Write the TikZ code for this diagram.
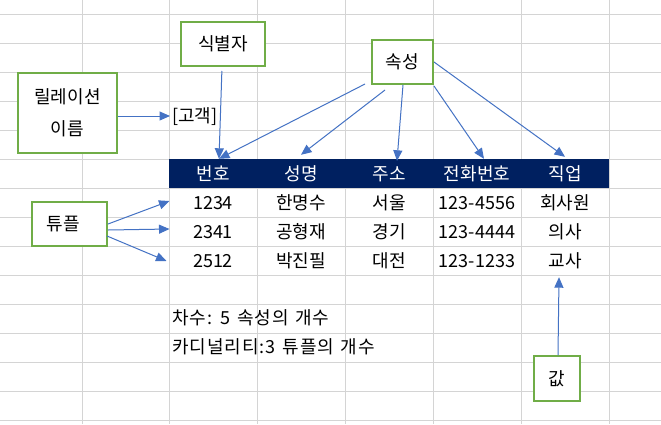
\documentclass[tikz,border=0pt]{standalone}
\usepackage{fontspec}
\setmainfont{Noto Sans CJK KR}
\newfontfamily\widekr[LetterSpace=5.5,WordSpace=1.3]{Noto Sans CJK KR}
\usetikzlibrary{arrows.meta}
\definecolor{gridc}{HTML}{D4D4D4}
\definecolor{boxg}{HTML}{70AD47}
\definecolor{arrb}{HTML}{4472C4}
\definecolor{navy}{HTML}{002060}
\begin{document}
\begin{tikzpicture}[x=1pt,y=-1pt,
  every node/.style={font=\fontsize{18}{22}\selectfont, inner sep=0pt},
  tx/.style={text height=15pt, text depth=2pt},
  gbox/.style={draw=boxg, line width=2pt, fill=white, align=center},
  cellc/.style={tx, minimum width=88.6pt, minimum height=29pt},
  hdr/.style={cellc, fill=navy, text=white},
  arr/.style={draw=arrb, line width=1pt, -{Triangle[length=10.5pt,width=9pt]}},
  gridline/.style={draw=gridc, line width=1pt},
  note/.style={tx, anchor=west, font=\widekr\fontsize{18}{22}\selectfont}
]
\useasboundingbox (0,0) rectangle (661,424);
\fill[white] (0,0) rectangle (661,424);
% grid
\foreach \x in {82,169.5,257,345,433,521,609} \draw[gridline] (\x,0) -- (\x,424);
\foreach \y in {14,43,...,420} \draw[gridline] (0,\y) -- (661,\y);
% header
\node[hdr] (h1) at (213,173.5) {번호};
\node[hdr] (h2) at (301,173.5) {성명};
\node[hdr] (h3) at (389,173.5) {주소};
\node[hdr] (h4) at (477,173.5) {전화번호};
\node[hdr] (h5) at (565,173.5) {직업};
% data
\node[cellc] (r1c1) at (213,202.5) {1234};
\node[cellc] (r1c2) at (301,202.5) {한명수};
\node[cellc] (r1c3) at (389,202.5) {서울};
\node[cellc] (r1c4) at (477,202.5) {123-4556};
\node[cellc] (r1c5) at (565,202.5) {회사원};
\node[cellc] (r2c1) at (213,231.5) {2341};
\node[cellc] (r2c2) at (301,231.5) {공형재};
\node[cellc] (r2c3) at (389,231.5) {경기};
\node[cellc] (r2c4) at (477,231.5) {123-4444};
\node[cellc] (r2c5) at (565,231.5) {의사};
\node[cellc] (r3c1) at (213,260.5) {2512};
\node[cellc] (r3c2) at (301,260.5) {박진필};
\node[cellc] (r3c3) at (389,260.5) {대전};
\node[cellc] (r3c4) at (477,260.5) {123-1233};
\node[cellc] (r3c5) at (565,260.5) {교사};
% texts
\node[tx, anchor=west, inner xsep=2pt] (gogaek) at (170,116) {[고객]};
\node[note] (degree) at (172,318) {차수: 5 속성의 개수};
\node[note] (card) at (172,347) {카디널리티:3 튜플의 개수};
% boxes
\node[gbox, tx, minimum width=84pt, minimum height=44pt] (ident) at (223,44) {식별자};
\node[gbox, minimum width=99pt, minimum height=80pt, font=\fontsize{18}{32}\selectfont] (relname) at (67.5,113) {릴레이션\\이름};
\node[gbox, tx, minimum width=61pt, minimum height=44pt] (attr) at (402.5,62) {속성};
\node[gbox, tx, minimum width=75pt, minimum height=44pt] (tuple) at (69.5,224) {};
\node[tx] (tuplelbl) at (63,224) {튜플};
\node[gbox, tx, minimum width=46pt, minimum height=45pt] (val) at (557,378.5) {값};
% attribute start points
\coordinate (aS1) at (365,84);
\coordinate (aS2) at (385,90);
\coordinate (aS3) at (403,85);
\coordinate (aS4) at (434,86);
\coordinate (aS5) at (434,62);
% arrows
\draw[arr, shorten <=4pt] ([xshift=-1pt]ident.south) -- ([xshift=6pt]h1.north);
\draw[arr] ([yshift=-3pt]relname.east) -- (gogaek.west);
\draw[arr] (aS1) -- ([xshift=6pt]h1.north);
\draw[arr] (aS2) -- ([yshift=4pt]h2.north);
\draw[arr] (aS3) -- ([xshift=8pt,yshift=-2pt]h3.north);
\draw[arr] (aS4) -- ([xshift=7pt]h4.north);
\draw[arr] (aS5) -- ([yshift=2pt]h5.north);
\draw[arr] (tuple.east) -- ([xshift=1pt,yshift=1.5pt]r1c1.west);
\draw[arr] ([yshift=-6pt]tuple.east) -- ([xshift=1pt,yshift=2.5pt]r2c1.west);
\draw[arr] ([xshift=-1pt,yshift=-12pt]tuple.east) -- ([xshift=-2pt,yshift=-0.5pt]r3c1.west);
\draw[arr] ([xshift=1pt]val.north) -- ([xshift=-6pt,yshift=-2pt]r3c5.south);
\end{tikzpicture}
\end{document}
